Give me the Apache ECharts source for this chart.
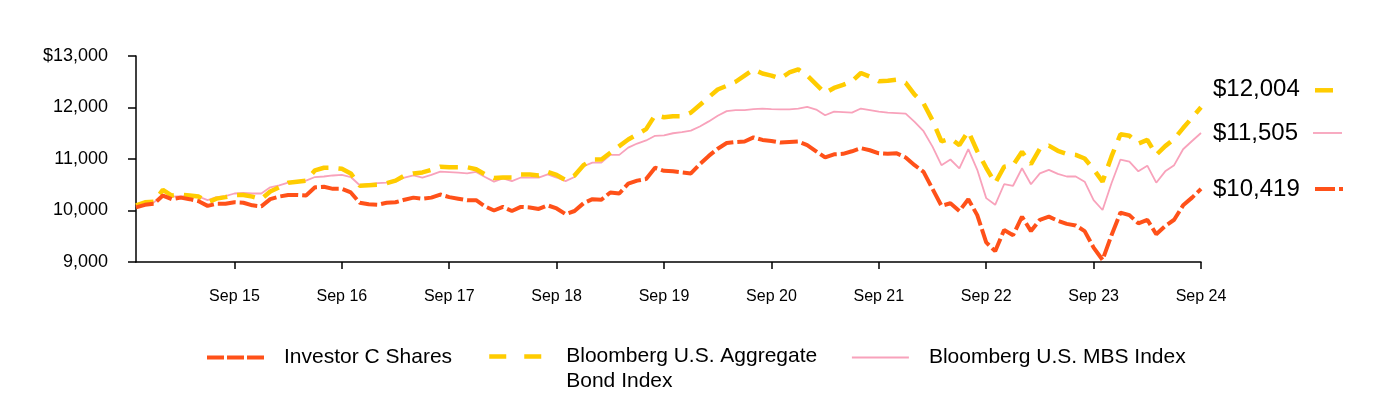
<!DOCTYPE html>
<html>
<head>
<meta charset="utf-8">
<script src="https://cdn.jsdelivr.net/npm/echarts@6/dist/echarts.min.js"></script>
<style>html,body{margin:0;padding:0;background:#fff;}#c{width:1384px;height:400px;}</style>
</head>
<body>
<div id="c"></div>
<script>
// Monthly categories Oct 2014 .. Sep 2024
const monthNames = ['Jan','Feb','Mar','Apr','May','Jun','Jul','Aug','Sep','Oct','Nov','Dec'];
const categories = [];
for (let k = 0; k < 120; k++) {
  const m = (9 + k) % 12;
  const y = 14 + Math.floor((9 + k) / 12);
  categories.push(monthNames[m] + ' ' + String(y).padStart(2, '0'));
}

const seriesNames = ['Investor C Shares', 'Bloomberg U.S. Aggregate Bond Index', 'Bloomberg U.S. MBS Index'];

const investorC = [
  10060,10110,10130,10290,10220,10250,10220,10180,10090,10130,
  10130,10160,10150,10100,10080,10220,10270,10300,10300,10290,
  10450,10460,10420,10420,10350,10150,10120,10110,10150,10160,
  10210,10250,10230,10250,10310,10260,10230,10200,10200,10080,
  10000,10070,9990,10070,10060,10030,10100,10040,9930,9990,
  10140,10220,10210,10350,10330,10520,10580,10610,10830,10770,
  10760,10740,10720,10900,11060,11200,11310,11330,11340,11420,
  11370,11350,11320,11330,11340,11270,11150,11030,11090,11100,
  11150,11210,11170,11110,11100,11110,11030,10880,10750,10420,
  10090,10140,9990,10220,9910,9380,9210,9620,9520,9880,
  9600,9820,9880,9800,9740,9710,9600,9280,9040,9520,
  9960,9910,9750,9820,9540,9700,9820,10100,10250,10419
];
const aggregate = [
  10100,10160,10170,10400,10290,10310,10290,10270,10160,10230,
  10260,10300,10300,10270,10220,10370,10450,10540,10560,10580,
  10780,10830,10830,10810,10720,10480,10490,10500,10530,10580,
  10680,10720,10740,10790,10850,10840,10840,10840,10800,10700,
  10630,10640,10640,10700,10700,10680,10750,10690,10590,10680,
  10880,10990,10990,11120,11250,11380,11480,11580,11850,11810,
  11830,11830,11900,12050,12200,12350,12420,12500,12620,12740,
  12660,12620,12560,12680,12740,12620,12450,12280,12380,12440,
  12510,12670,12600,12510,12520,12540,12480,12250,12080,11750,
  11340,11400,11270,11540,11150,10830,10530,10850,10880,11140,
  10900,11200,11260,11160,11100,11080,11010,10800,10560,11050,
  11480,11450,11300,11370,11080,11250,11390,11600,11800,12004
];
const mbs = [
  10100,10150,10160,10290,10270,10280,10280,10270,10200,10260,
  10280,10330,10340,10330,10330,10450,10490,10540,10560,10580,
  10650,10660,10680,10690,10650,10490,10510,10530,10540,10560,
  10640,10680,10640,10690,10755,10745,10735,10720,10750,10650,
  10560,10625,10570,10640,10640,10640,10700,10640,10570,10650,
  10860,10930,10930,11080,11080,11220,11300,11360,11450,11460,
  11500,11520,11550,11630,11730,11840,11930,11950,11950,11970,
  11980,11970,11965,11965,11980,12010,11960,11850,11920,11910,
  11900,11980,11950,11920,11900,11890,11880,11720,11540,11240,
  10880,10990,10820,11190,10790,10240,10110,10510,10480,10820,
  10510,10720,10790,10710,10660,10660,10560,10200,10010,10530,
  10990,10950,10760,10870,10540,10760,10880,11190,11350,11505
];
const yTickValues = [9000, 10000, 11000, 12000, 13000];
const yTickLabels = ['9,000', '10,000', '11,000', '12,000', '$13,000'];

const RED = '#FF5119', YEL = '#FFCC00', PINK = '#F8A2BB';
const FONT = 'Arial, "Liberation Sans", sans-serif';

function money(v) { return '$' + v.toLocaleString('en-US'); }
const isSepTick = (i) => (i - 11) % 12 === 0;

function makeLegend(name, left, top, dash, width) {
  return {
    left: left, top: top, padding: 0,
    itemWidth: 57, itemHeight: 14,
    itemStyle: {opacity: 0},
    lineStyle: {type: dash, width: width},
    textStyle: {fontFamily: FONT, fontSize: 21, color: '#000', padding: [0, 0, 0, 15], lineHeight: 25,
      rich: {t: {fontFamily: FONT, fontSize: 21, color: '#000', lineHeight: 25}}},
    formatter: (n) => n === seriesNames[1] ? '{t| }\n{t|Bloomberg U.S. Aggregate}\n{t|Bond Index}' : n,
    data: [{name: name}]
  };
}

const chart = echarts.init(document.getElementById('c'), null, {renderer: 'canvas'});
const option = {
  animation: false,
  backgroundColor: '#fff',
  textStyle: {fontFamily: FONT},
  grid: {left: 136, right: 183, top: 56, bottom: 138, containLabel: false},
  legend: [
    makeLegend(seriesNames[0], 205, 345, [17, 3], 4),
    makeLegend(seriesNames[1], 487, 319, [17, 18], 4.5),
    makeLegend(seriesNames[2], 851, 345, 'solid', 1.8)
  ],
  xAxis: {
    type: 'category', data: categories, boundaryGap: false,
    axisLine: {show: true, lineStyle: {color: '#000', width: 1.5}},
    axisTick: {show: true, length: 7, lineStyle: {color: '#000', width: 1.5}, interval: (i) => isSepTick(i)},
    axisLabel: {show: true, interval: (i) => isSepTick(i), fontSize: 16, color: '#000', margin: 27, fontFamily: FONT},
    splitLine: {show: false}
  },
  yAxis: {
    type: 'value', min: 9000, max: 13000, interval: 1000,
    axisLine: {show: true, lineStyle: {color: '#000', width: 1.5}},
    axisTick: {show: true, length: 8, lineStyle: {color: '#000', width: 1.5}},
    axisLabel: {fontSize: 18, color: '#000', margin: 28, fontFamily: FONT,
      formatter: (v) => { const k = yTickValues.indexOf(v); return k >= 0 ? yTickLabels[k] : ''; }},
    splitLine: {show: false}
  },
  series: [
    {
      name: seriesNames[0], type: 'line', data: investorC, symbol: 'none', z: 4,
      lineStyle: {color: RED, width: 4, type: [18, 4]}, itemStyle: {color: RED},
      endLabel: {show: true, formatter: (p) => money(p.value), fontSize: 24, color: '#000', distance: 12, offset: [0, 0], fontFamily: FONT}
    },
    {
      name: seriesNames[1], type: 'line', data: aggregate, symbol: 'none', z: 3,
      lineStyle: {color: YEL, width: 4.5, type: [18, 10]}, itemStyle: {color: YEL},
      endLabel: {show: true, formatter: (p) => money(p.value), fontSize: 24, color: '#000', distance: 12, offset: [0, -18], fontFamily: FONT}
    },
    {
      name: seriesNames[2], type: 'line', data: mbs, symbol: 'none', z: 2,
      lineStyle: {color: PINK, width: 1.8, type: 'solid'}, itemStyle: {color: PINK},
      endLabel: {show: true, formatter: (p) => money(p.value), fontSize: 24, color: '#000', distance: 12, offset: [0, 0], fontFamily: FONT}
    }
  ]
};
chart.setOption(option);

// Small line samples to the right of the end labels, positioned from the library's scales
const last = categories.length - 1;
const pR = chart.convertToPixel({xAxisIndex: 0, yAxisIndex: 0}, [last, investorC[last]]);
const pY = chart.convertToPixel({xAxisIndex: 0, yAxisIndex: 0}, [last, aggregate[last]]);
const pP = chart.convertToPixel({xAxisIndex: 0, yAxisIndex: 0}, [last, mbs[last]]);
chart.setOption({
  graphic: [
    {type: 'line', shape: {x1: pY[0] + 114, y1: pY[1] - 17, x2: pY[0] + 132, y2: pY[1] - 17}, style: {stroke: YEL, lineWidth: 4.5}},
    {type: 'line', shape: {x1: pP[0] + 112, y1: pP[1], x2: pP[0] + 141, y2: pP[1]}, style: {stroke: PINK, lineWidth: 1.8}},
    {type: 'line', shape: {x1: pR[0] + 114, y1: pR[1], x2: pR[0] + 142, y2: pR[1]}, style: {stroke: RED, lineWidth: 4, lineDash: [20, 4]}}
  ]
});
</script>
</body>
</html>
